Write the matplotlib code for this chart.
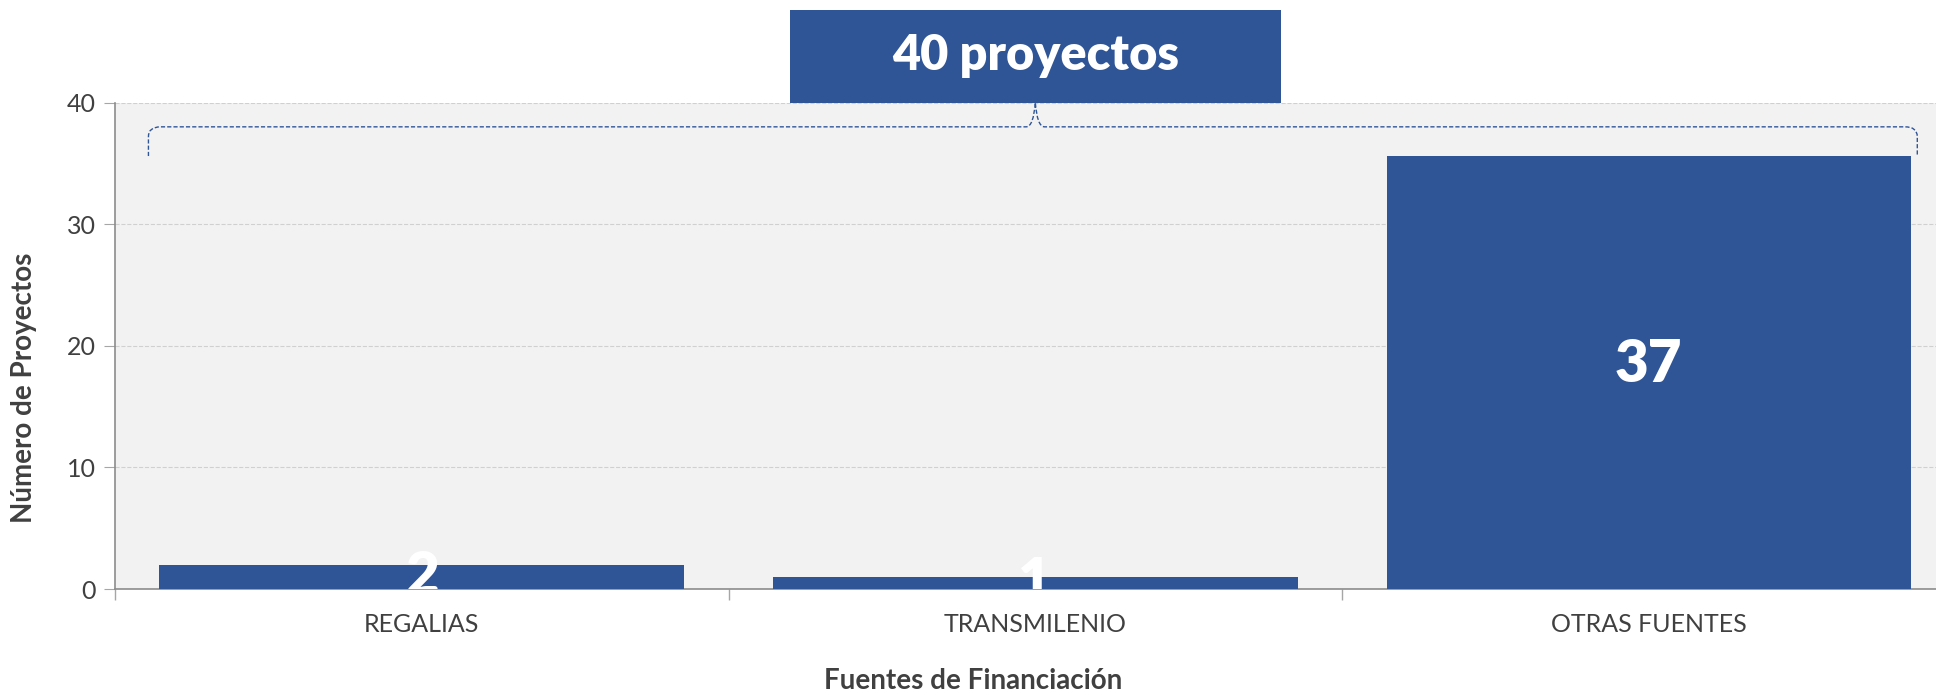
import matplotlib
matplotlib.use("Agg")
import matplotlib.pyplot as plt
from matplotlib.patches import Rectangle, PathPatch
from matplotlib.path import Path

# datos
categorias = ['REGALIAS', 'TRANSMILENIO', 'OTRAS FUENTES']
valores = [2, 1, 37]          # etiquetas de las barras
alturas = [2, 1, 35.6]        # altura dibujada
yticks = [0, 10, 20, 30, 40]

azul = '#2F5597'
gris_txt = '#404040'
plt.rcParams['font.family'] = ['Lato', 'DejaVu Sans']

fig = plt.figure(figsize=(19.36, 6.95), dpi=100)
ax = fig.add_axes([0.0594, 0.1525, 0.9406, 0.70])
ax.set_facecolor('#F2F2F2')

x = list(range(len(categorias)))
ancho = 0.855
ax.bar(x, alturas, width=ancho, color=azul, zorder=3)

# etiquetas dentro de las barras
for xi, v in zip(x, valores):
    ax.text(xi, v / 2, str(v), ha='center', va='center', color='white',
            fontsize=42, fontweight='heavy', zorder=4, clip_on=True)

ax.set_xlim(-0.5, 2.468)
ax.set_ylim(0, 40)
ax.set_yticks(yticks)
ax.set_xticks(x)
ax.set_xticklabels(categorias)
ax.set_xticks([-0.5, 0.5, 1.5], minor=True)
ax.tick_params(axis='x', which='major', length=0, pad=17, labelsize=18, labelcolor=gris_txt)
ax.tick_params(axis='x', which='minor', length=8, color='#a6a6a6', width=1)
ax.tick_params(axis='y', length=8, color='#a6a6a6', pad=6, labelsize=18, labelcolor=gris_txt)

ax.grid(axis='y', linestyle='--', color='#d0d0d0', linewidth=0.8, zorder=0)
for s in ['top', 'right']:
    ax.spines[s].set_visible(False)
for s in ['left', 'bottom']:
    ax.spines[s].set_color('#8c8c8c')
    ax.spines[s].set_linewidth(1.2)

# llave sobre todas las barras
total = sum(valores)
x0 = x[0] - ancho / 2 - 0.018
x1 = x[-1] + ancho / 2 + 0.01
xc = 1
yb = max(alturas)
yt = 38
yp = 40
verts = [
    (x0, yb), (x0, yt - 0.8),
    (x0, yt), (x0 + 0.02, yt),
    (xc - 0.015, yt),
    (xc - 0.003, yt), (xc, yp),
    (xc + 0.003, yt), (xc + 0.015, yt),
    (x1 - 0.02, yt),
    (x1, yt), (x1, yt - 0.8),
    (x1, yb),
]
codes = [Path.MOVETO, Path.LINETO,
         Path.CURVE3, Path.CURVE3,
         Path.LINETO,
         Path.CURVE3, Path.CURVE3,
         Path.CURVE3, Path.CURVE3,
         Path.LINETO,
         Path.CURVE3, Path.CURVE3,
         Path.LINETO]
ax.add_patch(PathPatch(Path(verts, codes), fill=False, edgecolor=azul,
                       linestyle=(0, (3, 1.5)), linewidth=1, zorder=5, clip_on=False))

# caja con el total
ax.add_patch(Rectangle((xc - 0.4, 40), 0.8, 7.6, facecolor=azul, edgecolor='none',
                       clip_on=False, zorder=6))
ax.text(xc, 43.9, f'{total} proyectos', ha='center', va='center', color='white',
        fontsize=35, fontweight='heavy', zorder=7, clip_on=False)

fig.text(0.5026, 0.02, 'Fuentes de Financiación', ha='center', va='center',
         fontsize=20, fontweight='bold', color=gris_txt)
fig.text(0.0125, 0.442, 'Número de Proyectos', ha='center', va='center', rotation=90,
         fontsize=20, fontweight='bold', color=gris_txt)

fig.savefig('out.png', dpi=100)
